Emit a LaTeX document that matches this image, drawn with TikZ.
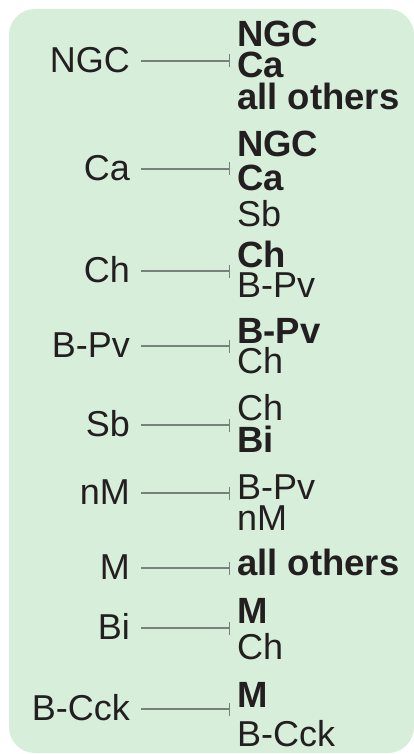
\documentclass[tikz,border=0pt]{standalone}
\usepackage{fontspec}
\setmainfont{Liberation Sans}
\usetikzlibrary{arrows.meta}
\definecolor{panel}{RGB}{214,238,218}
\definecolor{ink}{RGB}{35,31,32}
\definecolor{wire}{RGB}{120,130,124}
\begin{document}
\begin{tikzpicture}[x=1pt,y=-1pt,
  src/.style={anchor=east, inner sep=0pt, text height=23pt, text depth=0pt,
    font=\fontsize{36}{36}\selectfont, text=ink},
  tgt/.style={anchor=base west, inner sep=0pt,
    font=\fontsize{36}{36}\selectfont, text=ink},
  tgtb/.style={tgt, font=\fontsize{36.5}{36}\selectfont\bfseries},
  inhib/.style={draw=wire, line width=1.1pt,
    -{Bar[width=13pt]}, shorten <=11pt, shorten >=7pt}]
\useasboundingbox (0,0) rectangle (414,754);
\fill[panel, rounded corners=26pt] (9,9) rectangle (414,753);

% cell types on the left
\node[src] (s1) at (130,61)  {NGC};
\node[src] (s2) at (130,169) {Ca};
\node[src] (s3) at (130,271) {Ch};
\node[src] (s4) at (130,346) {B-Pv};
\node[src] (s5) at (130,425) {Sb};
\node[src] (s6) at (130,493) {nM};
\node[src] (s7) at (130,568) {M};
\node[src] (s8) at (130,628) {Bi};
\node[src] (s9) at (130,709) {B-Cck};

% targets on the right
\node[tgtb] (t1a) at (237,47)  {NGC};
\node[tgtb] (t1b) at (237,78)  {Ca};
\node[tgtb] (t1c) at (237,110) {all others};

\node[tgtb] (t2a) at (237,157) {NGC};
\node[tgtb] (t2b) at (237,190) {Ca};
\node[tgt]  (t2c) at (237,226) {Sb};

\node[tgtb] (t3a) at (237,267) {Ch};
\node[tgt]  (t3b) at (237,297) {B-Pv};

\node[tgtb] (t4a) at (237,343) {B-Pv};
\node[tgt]  (t4b) at (237,373) {Ch};

\node[tgt]  (t5a) at (237,420) {Ch};
\node[tgtb] (t5b) at (237,452) {Bi};

\node[tgt]  (t6a) at (237,499) {B-Pv};
\node[tgt]  (t6b) at (237,530) {nM};

\node[tgtb] (t7a) at (237,575) {all others};

\node[tgtb] (t8a) at (237,623) {M};
\node[tgt]  (t8b) at (237,659) {Ch};

\node[tgtb] (t9a) at (237,707) {M};
\node[tgt]  (t9b) at (237,746) {B-Cck};

% inhibitory connections
\draw[inhib] (s1.east) -- (s1.east -| t1a.west);
\draw[inhib] (s2.east) -- (s2.east -| t2a.west);
\draw[inhib] (s3.east) -- (s3.east -| t3a.west);
\draw[inhib] (s4.east) -- (s4.east -| t4a.west);
\draw[inhib] (s5.east) -- (s5.east -| t5a.west);
\draw[inhib] (s6.east) -- (s6.east -| t6a.west);
\draw[inhib] (s7.east) -- (s7.east -| t7a.west);
\draw[inhib] (s8.east) -- (s8.east -| t8a.west);
\draw[inhib] (s9.east) -- (s9.east -| t9a.west);
\end{tikzpicture}
\end{document}
